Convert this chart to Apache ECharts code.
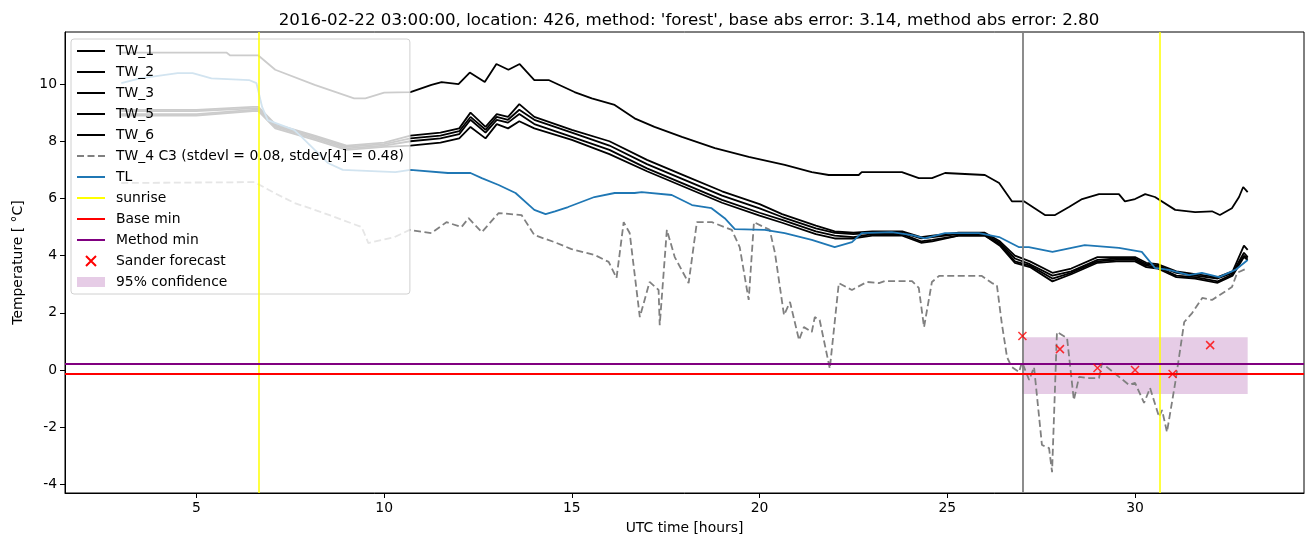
<!DOCTYPE html>
<html>
<head>
<meta charset="utf-8">
<script src="https://cdn.jsdelivr.net/npm/echarts@6.0.0/dist/echarts.min.js"></script>
<style>
  html, body { margin: 0; padding: 0; background: #fff; }
  #chart { width: 1313px; height: 547px; }
</style>
</head>
<body>
<div id="chart"></div>
<script>
// TW_1, the warm one on top
var tw1 = [[3.0,11.1],[5.8,11.1],[5.9,11.0],[6.65,11.0],[7.1,10.5],[8.15,9.97],[9.2,9.5],[9.5,9.5],[10.0,9.7],
  [10.7,9.72],[11.26,9.97],[11.53,10.07],[11.98,10.0],[12.28,10.4],[12.68,10.07],[12.99,10.7],[13.31,10.5],
  [13.61,10.7],[14.0,10.14],[14.38,10.14],[15.07,9.72],[15.53,9.5],[16.14,9.27],[16.67,8.8],[17.2,8.5],
  [17.93,8.15],[18.81,7.76],[19.71,7.45],[20.67,7.17],[21.39,6.92],[21.84,6.82],[22.64,6.82],[22.72,6.92],
  [23.79,6.92],[24.24,6.71],[24.59,6.71],[24.94,6.89],[26.0,6.82],[26.38,6.54],[26.72,5.9],[27.04,5.9],
  [27.6,5.42],[27.87,5.42],[28.24,5.7],[28.59,5.98],[29.04,6.15],[29.57,6.15],[29.73,5.9],[30.0,5.98],
  [30.27,6.15],[30.53,6.05],[31.07,5.6],[31.6,5.52],[32.05,5.55],[32.26,5.42],[32.58,5.66],[32.77,6.05],
  [32.88,6.4],[33.0,6.22]];

// the four close ones share the same hours
var bundleHours = [3.0,5.0,6.5,6.65,7.1,8.15,9.0,10.0,10.7,11.5,12.0,12.3,12.7,13.0,13.3,13.6,14.0,15.0,16.0,
  17.0,18.0,19.0,20.0,20.6,21.5,22.0,22.5,23.0,23.8,24.3,24.6,25.3,26.0,26.4,26.8,27.2,27.8,28.3,29.0,29.5,
  30.0,30.3,30.6,31.1,31.6,32.2,32.6,32.9,33.0];
var tw2 = [9.1,9.1,9.2,9.2,8.6,8.2,7.85,7.95,8.2,8.3,8.45,9.0,8.5,8.95,8.85,9.3,8.85,8.4,8.0,7.35,6.8,6.25,5.8,
  5.45,5.05,4.85,4.8,4.85,4.85,4.65,4.7,4.8,4.8,4.5,4.0,3.8,3.4,3.55,3.95,3.95,3.95,3.75,3.7,3.45,3.35,3.25,
  3.45,4.35,4.2];
var tw3 = [9.05,9.05,9.15,9.15,8.55,8.15,7.8,7.9,8.1,8.2,8.35,8.85,8.4,8.85,8.75,9.1,8.75,8.3,7.85,7.2,6.65,6.1,
  5.65,5.35,4.95,4.8,4.75,4.8,4.8,4.6,4.65,4.75,4.75,4.45,3.9,3.7,3.3,3.45,3.85,3.9,3.9,3.7,3.65,3.4,3.3,3.2,
  3.4,4.1,3.95];
var tw5 = [8.95,8.95,9.1,9.1,8.5,8.1,7.75,7.85,8.0,8.1,8.25,8.75,8.3,8.75,8.65,8.95,8.6,8.15,7.7,7.05,6.5,5.95,
  5.5,5.25,4.85,4.7,4.65,4.75,4.75,4.5,4.55,4.7,4.7,4.4,3.8,3.65,3.2,3.4,3.8,3.85,3.85,3.65,3.6,3.3,3.25,3.1,
  3.35,4.0,3.9];
var tw6 = [8.9,8.9,9.05,9.05,8.45,8.05,7.7,7.8,7.85,7.95,8.1,8.5,8.1,8.6,8.45,8.7,8.45,8.05,7.55,6.95,6.4,5.85,
  5.4,5.15,4.75,4.6,4.6,4.7,4.7,4.45,4.5,4.7,4.7,4.35,3.75,3.6,3.1,3.35,3.75,3.8,3.8,3.6,3.55,3.25,3.2,3.05,
  3.3,3.95,3.85];

var tw4 = [[3.0,6.54],[6.55,6.57],[7.08,6.19],[7.61,5.84],[8.33,5.52],[9.4,5.0],[9.58,4.44],[10.28,4.65],
  [10.68,4.9],[11.26,4.79],[11.66,5.17],[12.06,5.0],[12.25,5.31],[12.6,4.82],[13.05,5.49],[13.66,5.42],
  [14.0,4.72],[14.54,4.47],[14.99,4.23],[15.61,4.02],[15.98,3.78],[16.19,3.22],[16.38,5.17],[16.54,4.79],
  [16.81,1.85],[17.07,3.08],[17.31,2.8],[17.34,1.57],[17.53,4.9],[17.74,3.95],[18.11,3.04],[18.33,5.17],
  [18.73,5.17],[19.26,4.9],[19.47,4.3],[19.71,2.45],[19.85,5.17],[20.27,4.9],[20.41,4.09],[20.65,1.92],
  [20.81,2.38],[21.05,1.05],[21.18,1.5],[21.39,1.33],[21.47,1.85],[21.6,1.75],[21.84,0.24],[21.87,0.05],
  [22.11,3.04],[22.46,2.8],[22.86,3.08],[23.18,3.04],[23.34,3.11],[24.06,3.11],[24.24,2.87],[24.38,1.5],
  [24.59,3.08],[24.78,3.29],[25.92,3.29],[26.19,3.04],[26.32,2.97],[26.45,1.64],[26.59,0.45],[26.72,0.1],
  [26.91,-0.07],[26.99,0.28],[27.18,-0.35],[27.31,0.1],[27.52,-2.62],[27.71,-2.73],[27.79,-3.57],[27.92,1.33],
  [28.19,1.12],[28.37,-1.05],[28.51,-0.24],[28.77,-0.28],[29.04,-0.28],[29.12,0.24],[29.84,-0.52],[30.0,-0.45],
  [30.24,-1.15],[30.4,-0.63],[30.64,-1.64],[30.72,-1.4],[30.85,-2.17],[31.07,-0.45],[31.31,1.68],[31.52,1.99],
  [31.79,2.52],[32.05,2.45],[32.58,2.9],[32.72,3.4],[33.0,3.57]];

var tl = [[3.0,10.03],[3.5,10.2],[4.5,10.38],[4.9,10.38],[5.4,10.2],[6.4,10.14],[6.6,10.03],[6.75,9.2],
  [6.9,8.74],[7.6,8.4],[7.8,8.15],[8.5,7.24],[8.9,7.0],[10.3,6.92],[10.7,7.0],[11.7,6.89],[12.3,6.89],
  [12.6,6.71],[13.05,6.47],[13.5,6.19],[14.0,5.6],[14.3,5.45],[14.55,5.55],[14.9,5.7],[15.6,6.05],
  [16.14,6.19],[16.67,6.19],[16.86,6.22],[17.66,6.12],[18.2,5.77],[18.72,5.66],[19.07,5.31],[19.34,4.93],
  [20.14,4.9],[20.67,4.79],[21.39,4.55],[22.0,4.3],[22.46,4.47],[22.72,4.79],[23.52,4.82],[24.06,4.72],
  [24.4,4.6],[24.94,4.79],[25.84,4.79],[26.38,4.65],[26.9,4.3],[27.17,4.3],[27.8,4.13],[28.66,4.37],
  [29.57,4.27],[30.18,4.13],[30.53,3.57],[30.9,3.5],[31.44,3.32],[31.78,3.4],[32.24,3.25],[32.67,3.5],
  [33.0,3.85]];

var sunriseHours = [6.65, 30.67];
var nowHour = 27.0;
var baseMin = -0.14;
var methodMin = 0.21;
var sanderHours = [27, 28, 29, 30, 31, 32];
var sanderValues = [1.19, 0.73, 0.07, 0.0, -0.14, 0.87];
var confHours = [27, 33];
var confLow = -0.84, confHigh = 1.15;

var xTicks = [5, 10, 15, 20, 25, 30];
var yTicks = [-4, -2, 0, 2, 4, 6, 8, 10];

function zip(xs, ys) {
  return xs.map(function (x, i) { return [x, ys[i]]; });
}

var font = 'DejaVu Sans';
var fs = 13.9;
var lw = 1.8;

function blackLine(name, data) {
  return {
    name: name, type: 'line', data: data, symbol: 'none', showSymbol: false,
    color: '#000000', lineStyle: { color: '#000000', width: lw }
  };
}

var chart = echarts.init(document.getElementById('chart'), null, { renderer: 'canvas' });

var option = {
  animation: false,
  textStyle: { fontFamily: font },
  title: {
    text: "2016-02-22 03:00:00, location: 426, method: 'forest', base abs error: 3.14, method abs error: 2.80",
    left: 684, top: 7, textAlign: 'center',
    textStyle: { fontFamily: font, fontSize: 16.67, fontWeight: 'normal', color: '#000' }
  },
  grid: {
    left: 65, right: 9, top: 32, bottom: 54,
    show: true, borderColor: '#000', borderWidth: 1, backgroundColor: 'transparent'
  },
  legend: {
    orient: 'vertical', left: 71, top: 39,
    padding: [5, 6, 5, 5],
    itemWidth: 28, itemHeight: 10, itemGap: 7,
    backgroundColor: 'rgba(255,255,255,0.8)',
    borderColor: '#d0d0d0', borderWidth: 1, borderRadius: 3,
    // only the line part of a line icon, no marker dot
    itemStyle: { opacity: 0 },
    textStyle: { fontFamily: font, fontSize: fs, color: '#000', lineHeight: 14, padding: [0, 0, 0, 6] },
    data: [
      'TW_1', 'TW_2', 'TW_3', 'TW_5', 'TW_6',
      'TW_4 C3 (stdevl = 0.08, stdev[4] = 0.48)',
      'TL', 'sunrise', 'Base min', 'Method min',
      { name: 'Sander forecast', itemStyle: { opacity: 1 } },
      { name: '95% confidence', icon: 'rect', itemStyle: { opacity: 1 } }
    ]
  },
  xAxis: {
    type: 'value', min: 1.5, max: 34.5,
    name: 'UTC time [hours]', nameLocation: 'middle', nameGap: 28,
    nameTextStyle: { fontFamily: font, fontSize: fs, color: '#000' },
    axisLine: { show: true, onZero: false, lineStyle: { color: '#000' } },
    axisTick: { show: true, length: 5, customValues: xTicks, lineStyle: { color: '#000' } },
    axisLabel: { customValues: xTicks, margin: 8, fontFamily: font, fontSize: fs, color: '#000' },
    splitLine: { show: false }
  },
  yAxis: {
    type: 'value', min: -4.3, max: 11.82,
    name: 'Temperature [ \u00b0C]', nameLocation: 'middle', nameGap: 40, nameRotate: 90,
    nameTextStyle: { fontFamily: font, fontSize: fs, color: '#000' },
    axisLine: { show: true, onZero: false, lineStyle: { color: '#000' } },
    axisTick: { show: true, length: 5, customValues: yTicks, lineStyle: { color: '#000' } },
    axisLabel: { customValues: yTicks, margin: 8, fontFamily: font, fontSize: fs, color: '#000' },
    splitLine: { show: false }
  },
  series: [
    blackLine('TW_1', tw1),
    blackLine('TW_2', zip(bundleHours, tw2)),
    blackLine('TW_3', zip(bundleHours, tw3)),
    blackLine('TW_5', zip(bundleHours, tw5)),
    blackLine('TW_6', zip(bundleHours, tw6)),
    {
      name: 'TW_4 C3 (stdevl = 0.08, stdev[4] = 0.48)', type: 'line', data: tw4,
      symbol: 'none', showSymbol: false, color: '#808080',
      lineStyle: { color: '#808080', width: lw, type: [7, 3.5] }
    },
    {
      name: 'TL', type: 'line', data: tl, symbol: 'none', showSymbol: false,
      color: '#1f77b4', lineStyle: { color: '#1f77b4', width: lw }
    },
    {
      name: 'now', type: 'line', data: [], symbol: 'none', color: '#808080',
      markLine: {
        silent: true, symbol: ['none', 'none'], label: { show: false },
        lineStyle: { color: '#808080', width: lw, type: 'solid' },
        data: [{ xAxis: nowHour }]
      }
    },
    {
      name: '95% confidence', type: 'line', data: [], symbol: 'none', color: 'rgba(128,0,128,0.2)',
      itemStyle: { color: 'rgba(128,0,128,0.2)' },
      lineStyle: { width: 0 },
      markArea: {
        silent: true,
        itemStyle: { color: 'rgba(128,0,128,0.2)' },
        data: [[{ coord: [confHours[0], confLow] }, { coord: [confHours[1], confHigh] }]]
      }
    },
    {
      name: 'sunrise', type: 'line', data: [], symbol: 'none', color: '#ffff00',
      lineStyle: { color: '#ffff00', width: 1.5 },
      markLine: {
        silent: true, symbol: ['none', 'none'], label: { show: false },
        lineStyle: { color: '#ffff00', width: 1.5, type: 'solid' },
        data: sunriseHours.map(function (h) { return { xAxis: h }; })
      }
    },
    {
      name: 'Base min', type: 'line', data: [], symbol: 'none', color: '#ff0000',
      lineStyle: { color: '#ff0000', width: lw },
      markLine: {
        silent: true, symbol: ['none', 'none'], label: { show: false },
        lineStyle: { color: '#ff0000', width: lw, type: 'solid' },
        data: [{ yAxis: baseMin }]
      }
    },
    {
      name: 'Method min', type: 'line', data: [], symbol: 'none', color: '#800080',
      lineStyle: { color: '#800080', width: lw },
      markLine: {
        silent: true, symbol: ['none', 'none'], label: { show: false },
        lineStyle: { color: '#800080', width: lw, type: 'solid' },
        data: [{ yAxis: methodMin }]
      }
    },
    {
      name: 'Sander forecast', type: 'scatter', data: zip(sanderHours, sanderValues),
      symbol: 'path://M0,0L10,10M10,0L0,10', symbolSize: 8,
      color: '#ff0000',
      itemStyle: { color: '#ff0000', borderColor: '#ff0000', borderWidth: 1.5 },
      z: 5
    }
  ]
};

chart.setOption(option);
</script>
</body>
</html>
